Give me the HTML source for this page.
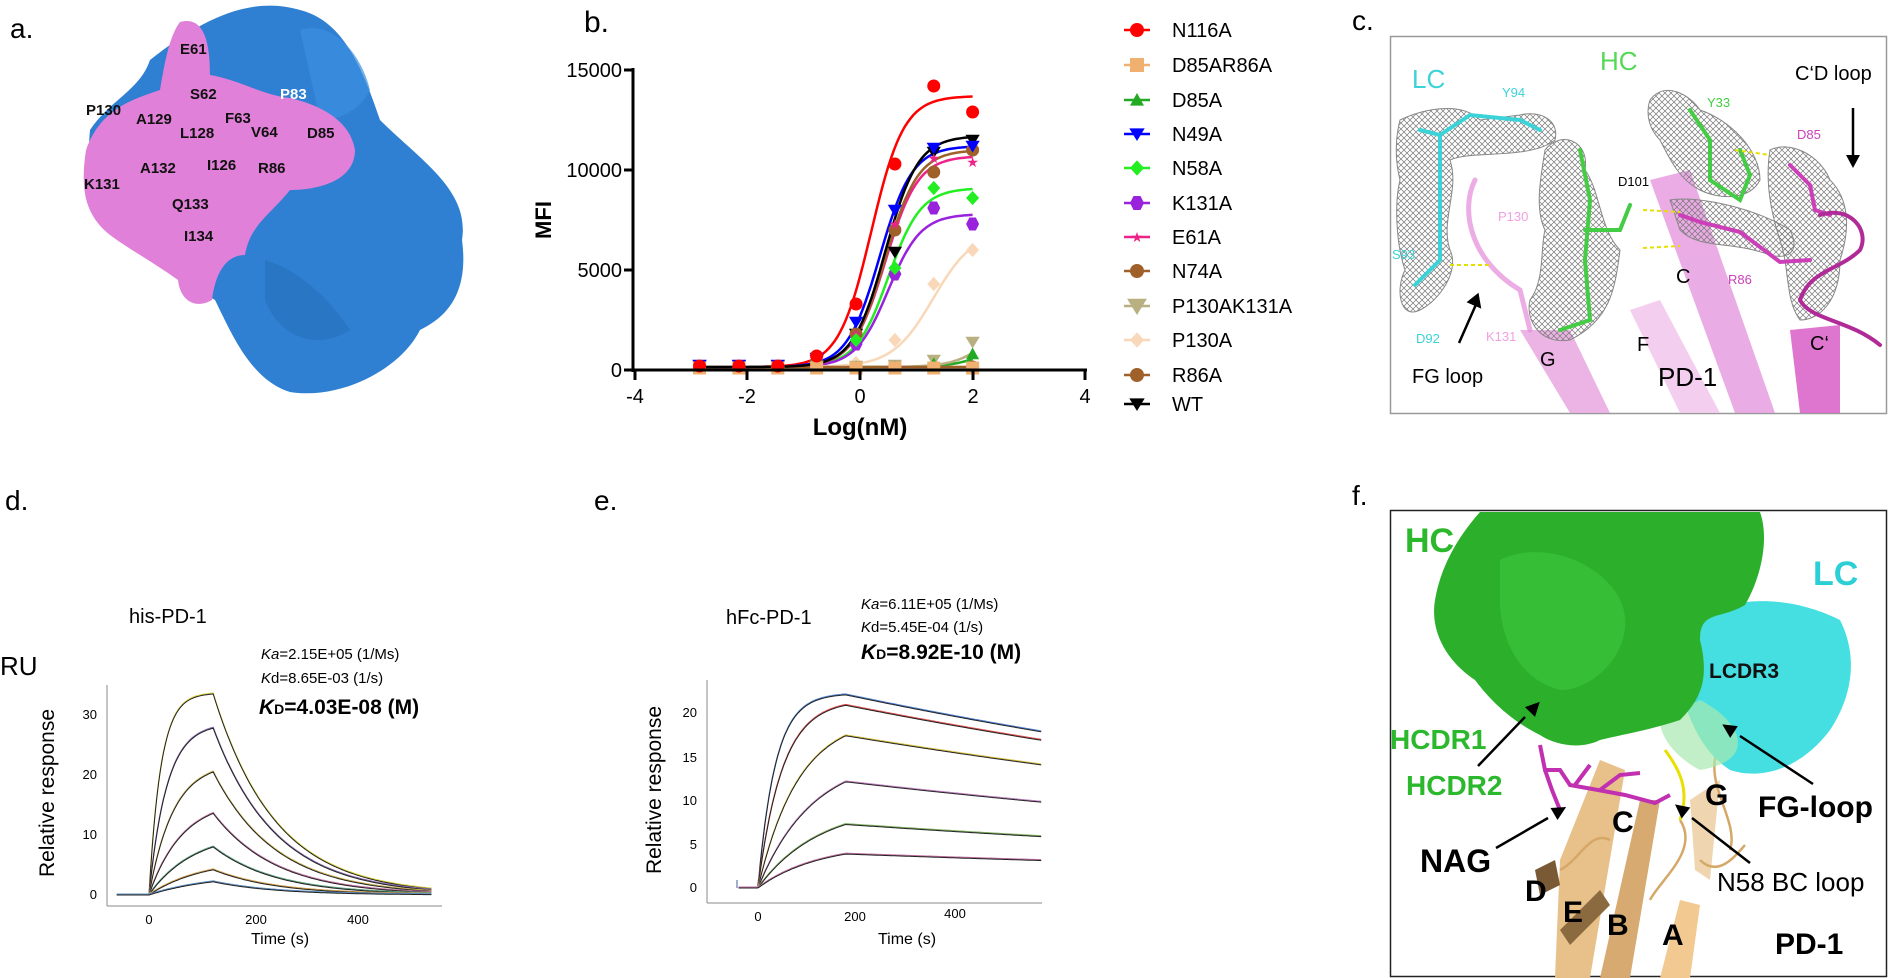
<!DOCTYPE html>
<html><head><meta charset="utf-8"><style>
html,body{margin:0;padding:0;background:#fff;}
svg{display:block;font-family:"Liberation Sans",Arial,sans-serif;}
</style></head><body>
<svg id="s" width="1891" height="978" viewBox="0 0 1891 978" xmlns="http://www.w3.org/2000/svg">
<defs>
<pattern id="mesh" width="6" height="6" patternUnits="userSpaceOnUse"><path d="M0 0L6 6M6 0L0 6" stroke="#777" stroke-width="0.7"/></pattern>
</defs>
<!-- panel a -->
<text x="10" y="38" font-size="28">a.</text>
<path d="M150 60 C200 20 250 -5 300 10 C340 20 360 60 380 120 C420 160 470 190 462 240 C470 300 440 320 420 330 C400 370 340 400 290 392 C250 380 230 330 215 300 C180 280 160 250 130 240 C100 220 85 180 90 130 C110 100 140 90 150 60Z" fill="#2f7fd2"/>
<path d="M300 30 C330 20 360 50 370 90 C360 110 340 120 320 120Z" fill="#3a8fe0" opacity="0.7"/>
<path d="M265 260 C300 270 330 300 350 330 C320 350 280 340 265 300Z" fill="#2670bb" opacity="0.6"/>
<path d="M180 22 C205 15 210 45 210 75 C240 80 262 95 290 98 C320 105 350 120 355 150 C355 180 320 190 290 190 C270 215 250 225 245 255 C225 255 215 275 212 300 C195 310 180 300 178 280 C150 260 130 250 110 235 C85 215 80 190 86 150 C100 110 130 100 160 90 C165 60 170 35 180 22Z" fill="#e080d8"/>
<g font-size="15" font-weight="bold" fill="#111">
<text x="180" y="54">E61</text><text x="190" y="99">S62</text><text x="280" y="99" fill="#fff">P83</text>
<text x="86" y="115">P130</text><text x="136" y="124">A129</text><text x="225" y="123">F63</text>
<text x="180" y="138">L128</text><text x="251" y="137">V64</text><text x="307" y="138">D85</text>
<text x="140" y="173">A132</text><text x="207" y="170">I126</text><text x="258" y="173">R86</text>
<text x="84" y="189">K131</text><text x="172" y="209">Q133</text><text x="184" y="241">I134</text>
</g>
<!-- panel b -->
<text x="584" y="32" font-size="30">b.</text>
<g id="pb"></g>
<line x1="633" y1="68" x2="633" y2="372" stroke="#000" stroke-width="3"/>
<line x1="630" y1="370" x2="1087" y2="370" stroke="#000" stroke-width="3"/>
<g stroke="#000" stroke-width="3">
<line x1="624" y1="70" x2="633" y2="70"/><line x1="624" y1="170" x2="633" y2="170"/><line x1="624" y1="270" x2="633" y2="270"/><line x1="624" y1="370" x2="633" y2="370"/>
<line x1="635" y1="370" x2="635" y2="380"/><line x1="747" y1="370" x2="747" y2="380"/><line x1="860" y1="370" x2="860" y2="380"/><line x1="973" y1="370" x2="973" y2="380"/><line x1="1085" y1="370" x2="1085" y2="380"/>
</g>
<g font-size="20" text-anchor="end"><text x="622" y="77">15000</text><text x="622" y="177">10000</text><text x="622" y="277">5000</text><text x="622" y="377">0</text></g>
<g font-size="20" text-anchor="middle"><text x="635" y="403">-4</text><text x="747" y="403">-2</text><text x="860" y="403">0</text><text x="973" y="403">2</text><text x="1085" y="403">4</text></g>
<text x="860" y="435" font-size="24" font-weight="bold" text-anchor="middle">Log(nM)</text>
<text transform="translate(551,220) rotate(-90)" font-size="22" font-weight="bold" text-anchor="middle">MFI</text>
<g id="leg" font-size="20"></g>
<!-- panel c -->
<text x="1352" y="30" font-size="28">c.</text>
<rect x="1390.5" y="36.5" width="496" height="377" fill="#fff" stroke="#999" stroke-width="1.5"/>
<g opacity="0.85">
<path d="M1520 330 L1570 330 L1610 413 L1570 413Z" fill="#e9a8e0"/>
<path d="M1630 310 L1660 300 L1720 413 L1680 413Z" fill="#f2c6ec"/>
<path d="M1650 180 L1690 170 L1775 413 L1735 413Z" fill="#e79ee0"/>
<path d="M1790 330 L1840 325 L1840 413 L1800 413Z" fill="#d85ec8"/>
</g>
<g fill="url(#mesh)" stroke="#888" stroke-width="1">
<path d="M1400 120 C1420 110 1460 100 1480 120 L1520 115 C1540 110 1560 120 1555 140 C1530 160 1470 150 1450 160 C1460 190 1440 220 1450 250 C1460 270 1440 300 1420 310 C1400 320 1395 290 1405 270 C1395 240 1395 200 1400 180 C1395 160 1395 140 1400 120Z"/>
<path d="M1545 150 C1560 130 1590 140 1585 170 C1600 190 1600 230 1620 250 C1615 290 1610 320 1570 340 C1540 345 1525 320 1530 300 C1545 280 1540 250 1545 230 C1535 210 1540 180 1545 150Z"/>
<path d="M1650 100 C1665 80 1690 95 1700 110 C1730 120 1760 150 1760 180 C1750 200 1720 200 1700 190 C1680 180 1670 160 1660 140 C1650 130 1645 115 1650 100Z"/>
<path d="M1670 200 C1700 195 1760 210 1790 230 C1800 250 1790 260 1770 255 C1730 240 1700 250 1680 230Z"/>
<path d="M1770 150 C1790 140 1820 155 1830 180 C1850 200 1850 230 1840 260 C1840 300 1820 320 1800 320 C1785 300 1790 270 1780 240 C1770 210 1765 180 1770 150Z"/>
</g>
<g fill="none" stroke-linecap="round">
<path d="M1420 130 L1440 135 L1440 260 L1415 285" stroke="#3cd3d8" stroke-width="4"/>
<path d="M1440 135 L1470 115 L1520 120 L1540 130" stroke="#3cd3d8" stroke-width="4"/>
<path d="M1475 180 C1460 210 1470 260 1520 290 L1530 330" stroke="#e48ad8" stroke-width="5" opacity="0.7"/>
<path d="M1580 150 L1590 200 L1585 260 L1590 320 L1560 330 M1585 230 L1620 230 L1630 205" stroke="#44cc44" stroke-width="4"/>
<path d="M1690 110 L1710 140 L1710 180 L1740 200 L1750 175 L1740 150" stroke="#44cc44" stroke-width="4"/>
<path d="M1680 215 L1700 222 L1740 232 L1780 262 L1810 260" stroke="#cc3fb8" stroke-width="4"/>
<path d="M1790 165 L1810 185 L1815 210 L1830 215" stroke="#cc3fb8" stroke-width="4"/>
<path d="M1820 215 C1850 205 1870 230 1860 250 C1840 270 1810 270 1800 300 C1810 320 1850 320 1880 345" stroke="#b02a98" stroke-width="4"/>
</g>
<g stroke="#e6e000" stroke-width="2" stroke-dasharray="4 3"><line x1="1643" y1="210" x2="1680" y2="212"/><line x1="1643" y1="248" x2="1680" y2="246"/><line x1="1735" y1="150" x2="1770" y2="155"/><line x1="1450" y1="265" x2="1490" y2="265"/></g>
<g font-size="13"><text x="1502" y="97" fill="#3cd3d8">Y94</text><text x="1707" y="107" fill="#44cc44">Y33</text><text x="1797" y="139" fill="#cc3fb8">D85</text><text x="1618" y="186" fill="#000">D101</text><text x="1498" y="221" fill="#f0a0e0">P130</text><text x="1392" y="259" fill="#3cd3d8">S93</text><text x="1728" y="284" fill="#cc3fb8">R86</text><text x="1416" y="343" fill="#3cd3d8">D92</text><text x="1486" y="341" fill="#f0a0e0">K131</text></g>
<text x="1412" y="88" font-size="26" fill="#3cd3d8">LC</text>
<text x="1600" y="70" font-size="26" fill="#55d855">HC</text>
<text x="1795" y="80" font-size="20">C‘D loop</text>
<g font-size="20"><text x="1676" y="283">C</text><text x="1540" y="366">G</text><text x="1637" y="351">F</text><text x="1810" y="350">C‘</text><text x="1412" y="383">FG loop</text></g>
<text x="1658" y="386" font-size="26">PD-1</text>
<g stroke="#000" stroke-width="2.5"><line x1="1459" y1="343" x2="1478" y2="300"/><line x1="1853" y1="108" x2="1853" y2="160"/></g>
<path d="M1472 290 L1485 298 L1471 306Z" transform="rotate(-70 1478 300)" fill="#000"/>
<path d="M1846 155 L1860 155 L1853 168Z" fill="#000"/>
<!-- panel d -->
<text x="5" y="510" font-size="28">d.</text>
<text x="129" y="623" font-size="20">his-PD-1</text>
<text x="0" y="675" font-size="26">RU</text>
<g font-size="15"><text x="261" y="659"><tspan font-style="italic">Ka</tspan>=2.15E+05 (1/Ms)</text><text x="261" y="683"><tspan font-style="italic">K</tspan>d=8.65E-03 (1/s)</text></g>
<text x="259" y="714" font-size="21" font-weight="bold"><tspan font-style="italic">K</tspan><tspan font-size="14">D</tspan>=4.03E-08 (M)</text>
<line x1="107" y1="685" x2="107" y2="906" stroke="#888"/><line x1="107" y1="906" x2="442" y2="906" stroke="#888"/>
<g font-size="13" text-anchor="end"><text x="97" y="899">0</text><text x="97" y="839">10</text><text x="97" y="779">20</text><text x="97" y="719">30</text></g>
<g font-size="13" text-anchor="middle"><text x="149" y="924">0</text><text x="256" y="924">200</text><text x="358" y="924">400</text></g>
<text x="280" y="944" font-size="16" text-anchor="middle">Time (s)</text>
<text transform="translate(54,793) rotate(-90)" font-size="21" text-anchor="middle">Relative response</text>
<g id="pd"></g>
<!-- panel e -->
<text x="594" y="510" font-size="28">e.</text>
<text x="726" y="624" font-size="20">hFc-PD-1</text>
<g font-size="15"><text x="861" y="609"><tspan font-style="italic">Ka</tspan>=6.11E+05 (1/Ms)</text><text x="861" y="632"><tspan font-style="italic">K</tspan>d=5.45E-04 (1/s)</text></g>
<text x="861" y="659" font-size="21" font-weight="bold"><tspan font-style="italic">K</tspan><tspan font-size="14">D</tspan>=8.92E-10 (M)</text>
<line x1="707" y1="680" x2="707" y2="903" stroke="#888"/><line x1="707" y1="903" x2="1042" y2="903" stroke="#888"/>
<g font-size="13" text-anchor="end"><text x="697" y="892">0</text><text x="697" y="849">5</text><text x="697" y="805">10</text><text x="697" y="762">15</text><text x="697" y="717">20</text></g>
<g font-size="13" text-anchor="middle"><text x="758" y="921">0</text><text x="855" y="921">200</text><text x="955" y="918">400</text></g>
<text x="907" y="944" font-size="16" text-anchor="middle">Time (s)</text>
<text transform="translate(661,790) rotate(-90)" font-size="21" text-anchor="middle">Relative response</text>
<g id="pe"></g>
<!-- panel f -->
<text x="1352" y="505" font-size="28">f.</text>
<rect x="1390.5" y="510.5" width="496" height="466" fill="#fff" stroke="#222" stroke-width="1.5"/>
<g>
<path d="M1560 860 L1600 760 L1625 770 L1590 978 L1555 978Z" fill="#e8c08a"/>
<path d="M1600 978 L1640 800 L1660 800 L1630 978Z" fill="#d6aa70"/>
<path d="M1660 978 L1680 900 L1700 905 L1690 978Z" fill="#f2c990"/>
<path d="M1690 800 L1720 780 L1710 880 L1695 870Z" fill="#f0d6b0"/>
<path d="M1560 930 L1600 890 L1610 905 L1570 945Z" fill="#8c6a40"/>
<path d="M1535 870 L1555 860 L1560 885 L1540 895Z" fill="#7a5a35"/>
<path d="M1610 840 C1590 830 1580 860 1560 870 M1720 745 C1700 780 1740 820 1730 850 M1680 820 C1700 850 1660 880 1650 900 M1700 860 C1720 880 1740 850 1745 845" stroke="#d6a868" stroke-width="2.5" fill="none"/>
</g>
<path d="M1695 620 C1740 590 1800 600 1840 620 C1860 660 1850 700 1830 730 C1800 770 1760 780 1730 770 C1700 750 1690 720 1680 690Z" fill="#45dfe2"/>
<path d="M1700 700 C1740 720 1760 760 1700 770 C1680 760 1660 740 1660 720Z" fill="#a8e8b0" opacity="0.7"/>
<path d="M1480 512 L1760 512 C1770 540 1760 580 1745 605 C1720 620 1700 610 1700 640 C1710 680 1700 700 1680 720 C1650 730 1620 735 1600 740 C1580 750 1555 745 1540 735 C1510 720 1490 700 1475 680 C1445 660 1430 630 1435 600 C1440 570 1455 540 1480 512Z" fill="#2cb02c"/>
<path d="M1500 560 C1540 540 1600 560 1620 600 C1640 640 1600 690 1560 690 C1520 680 1500 640 1500 600Z" fill="#3cc43c" opacity="0.7"/>
<g stroke="#c030b0" stroke-width="4" fill="none"><path d="M1540 745 L1545 770 L1560 770 L1570 785 L1598 790 L1625 795 L1655 803 L1670 795 M1545 770 L1552 790 L1560 810 M1575 785 L1590 765 M1600 790 L1620 775 L1640 773"/></g>
<path d="M1665 750 C1680 770 1690 790 1680 820" stroke="#e8e000" stroke-width="3" fill="none"/>
<g font-weight="bold">
<text x="1405" y="552" font-size="34" fill="#2cb82c">HC</text>
<text x="1813" y="585" font-size="34" fill="#2ccfd6">LC</text>
<text x="1709" y="678" font-size="21" fill="#111">LCDR3</text>
<text x="1390" y="749" font-size="28" fill="#2cb82c">HCDR1</text>
<text x="1406" y="795" font-size="28" fill="#2cb82c">HCDR2</text>
<text x="1420" y="872" font-size="32">NAG</text>
<text x="1612" y="832" font-size="30">C</text>
<text x="1705" y="805" font-size="30">G</text>
<text x="1758" y="817" font-size="30">FG-loop</text>
<text x="1717" y="891" font-size="26" font-weight="normal">N58 BC loop</text>
<text x="1525" y="901" font-size="30">D</text>
<text x="1563" y="922" font-size="30">E</text>
<text x="1607" y="935" font-size="30">B</text>
<text x="1662" y="945" font-size="30">A</text>
<text x="1775" y="954" font-size="30">PD-1</text>
</g>
<g stroke="#000" stroke-width="2.5">
<line x1="1478" y1="766" x2="1525" y2="717"/><line x1="1496" y1="848" x2="1548" y2="818"/><line x1="1813" y1="784" x2="1740" y2="736"/><line x1="1750" y1="863" x2="1692" y2="818"/>
</g>
<g fill="#000">
<path d="M0 -7 L14 0 L0 7Z" transform="translate(1530,712) rotate(-46)"/>
<path d="M0 -7 L14 0 L0 7Z" transform="translate(1554,814) rotate(-30)"/>
<path d="M0 -7 L14 0 L0 7Z" transform="translate(1734,732) rotate(213)"/>
<path d="M0 -7 L14 0 L0 7Z" transform="translate(1686,813) rotate(218)"/>
</g>
</svg>
<script>
var NS="http://www.w3.org/2000/svg";
function el(p,t,a){var e=document.createElementNS(NS,t);for(var k in a)e.setAttribute(k,a[k]);p.appendChild(e);return e;}
var X=function(v){return 860+v*56.3;},Y=function(m){return 370-m*0.02;};
var pb=document.getElementById("pb");
var xs=[-2.85,-2.15,-1.46,-0.77,-0.07,0.62,1.31,2.0];
var S=[
["N116A","#ff0000","circle",13700,0.2,1.5,[200,200,200,700,3300,10300,14200,12900]],
["D85AR86A","#f0b070","square",100,5,1,[100,100,100,100,100,100,100,100]],
["D85A","#22aa22","tri",3000,2.6,1.3,[150,150,150,150,150,150,300,800]],
["N49A","#0000ff","tridown",11200,0.35,1.5,[250,250,250,600,2400,8000,11100,11200]],
["N58A","#22ee22","diamond",9100,0.5,1.5,[150,150,150,400,1500,5100,9100,8600]],
["K131A","#9922dd","hex",7800,0.5,1.5,[150,150,150,400,1300,4800,8100,7300]],
["E61A","#ee2288","star",10700,0.45,1.5,[150,150,150,400,1800,7300,10600,10400]],
["N74A","#a0602a","circle",11000,0.45,1.5,[150,150,150,400,1800,7000,9900,11000]],
["P130AK131A","#b8b080","tridown",3500,2.4,1.4,[200,200,200,200,200,250,500,1400]],
["P130A","#f8d8b8","diamond",7000,1.3,1.2,[150,150,150,150,350,1500,4300,6000]],
["R86A","#a0602a","circle",100,5,1,[100,100,100,100,100,100,100,150]],
["WT","#000000","tridown",11700,0.45,1.5,[200,200,200,500,1800,5900,10900,11500]]];
function mk(g,shape,x,y,c,r){
 if(shape=="circle")el(g,"circle",{cx:x,cy:y,r:r,fill:c});
 else if(shape=="square")el(g,"rect",{x:x-r,y:y-r,width:2*r,height:2*r,fill:c});
 else if(shape=="tri")el(g,"path",{d:"M"+x+" "+(y-r)+"L"+(x+r)+" "+(y+r*0.8)+"L"+(x-r)+" "+(y+r*0.8)+"Z",fill:c});
 else if(shape=="tridown")el(g,"path",{d:"M"+(x-r*1.1)+" "+(y-r*0.8)+"L"+(x+r*1.1)+" "+(y-r*0.8)+"L"+x+" "+(y+r)+"Z",fill:c});
 else if(shape=="diamond")el(g,"path",{d:"M"+x+" "+(y-r*1.1)+"L"+(x+r)+" "+y+"L"+x+" "+(y+r*1.1)+"L"+(x-r)+" "+y+"Z",fill:c});
 else if(shape=="hex")el(g,"path",{d:"M"+(x-r)+" "+y+"L"+(x-r/2)+" "+(y-r)+"L"+(x+r/2)+" "+(y-r)+"L"+(x+r)+" "+y+"L"+(x+r/2)+" "+(y+r)+"L"+(x-r/2)+" "+(y+r)+"Z",fill:c});
 else if(shape=="star")el(g,"text",{x:x,y:y+5,fill:c,"font-size":14,"text-anchor":"middle"}).textContent="★";
}
S.forEach(function(s){
 var d="";for(var v=-2.9;v<=2.001;v+=0.05){var m=150+(s[3]-150)/(1+Math.pow(10,(s[4]-v)*s[5]));d+=(d?"L":"M")+X(v).toFixed(1)+" "+Y(m).toFixed(1);}
 el(pb,"path",{d:d,fill:"none",stroke:s[1],"stroke-width":2.5});
});
S.slice().reverse().forEach(function(s){for(var i=0;i<8;i++)mk(pb,s[2],X(xs[i]),Y(s[6][i]),s[1],6.5);});
var lg=document.getElementById("leg");
var ly=[30,65,100,134,168,203,237,271,306,340,375,404];
S.forEach(function(s,i){el(lg,"line",{x1:1124,y1:ly[i],x2:1150,y2:ly[i],stroke:s[1],"stroke-width":2.5});mk(lg,s[2],1137,ly[i],s[1],i==8?9:7);var t=el(lg,"text",{x:1172,y:ly[i]+7});t.textContent=s[0];});
// panel d
var pd=document.getElementById("pd");
var cols=["#d8d040","#8a6bb0","#c8b050","#c070a0","#60a080","#d0a050","#6090c0"];
var D=[[33.5,0.045],[27.8,0.03],[20.5,0.022],[13.6,0.016],[8,0.012],[4.2,0.01],[2.2,0.008]];
D.forEach(function(p,i){
 var kd=0.0086,Req=p[0]/(1-Math.exp(-p[1]*120)),d="",d2="";
 for(var t=-60;t<=530;t+=3){var r;if(t<=0)r=0;else if(t<=120)r=Req*(1-Math.exp(-p[1]*t));else r=p[0]*Math.exp(-kd*(t-120));
  var x=(149+t*0.535).toFixed(1),y=(895-r*6.0).toFixed(1);d+=(d?"L":"M")+x+" "+y;d2+=(d2?"L":"M")+x+" "+(y-0.8);}
 el(pd,"path",{d:d2,fill:"none",stroke:cols[i],"stroke-width":1.3});
 el(pd,"path",{d:d,fill:"none",stroke:"#222","stroke-width":1});
});
// panel e
var pe=document.getElementById("pe");
var E=[[22.2,0.028],[21,0.02],[17.5,0.012],[12.2,0.009],[7.3,0.008],[3.9,0.008]];
var cols2=["#5080d0","#e05050","#d8c040","#c080c0","#80b060","#c070a0"];
E.forEach(function(p,i){
 var kd=0.00053,Req=p[0]/(1-Math.exp(-p[1]*180)),d="",d2="";
 for(var t=-40;t<=582;t+=3){var r;if(t<=0)r=0;else if(t<=180)r=Req*(1-Math.exp(-p[1]*t));else r=p[0]*Math.exp(-kd*(t-180));
  var x=(758+t*0.4875).toFixed(1),y=(888-r*8.7).toFixed(1);d+=(d?"L":"M")+x+" "+y;d2+=(d2?"L":"M")+x+" "+(y-0.8);}
 el(pe,"path",{d:d2,fill:"none",stroke:cols2[i],"stroke-width":1.3});
 el(pe,"path",{d:d,fill:"none",stroke:"#222","stroke-width":1});
});
el(pe,"line",{x1:737,y1:888,x2:737,y2:880,stroke:"#4060a0","stroke-width":1});
</script>
</body></html>
